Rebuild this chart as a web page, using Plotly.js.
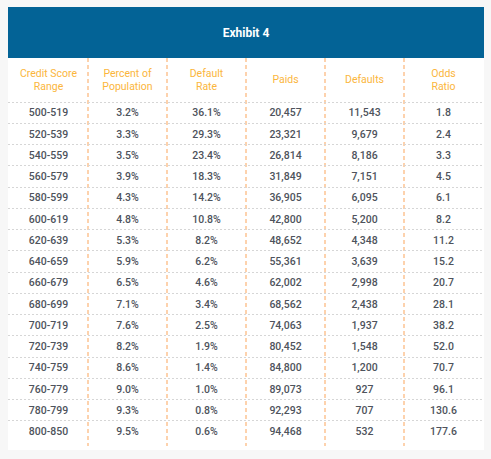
<!DOCTYPE html>
<html>
<head>
<meta charset="utf-8">
<script src="https://cdn.plot.ly/plotly-3.0.1.min.js"></script>
<style>html,body{margin:0;padding:0;background:#f7f7f7;}#chart{width:491px;height:459px;}</style>
</head>
<body>
<div id="chart"></div>
<script>
// ---- data ----
const title = "Exhibit 4";
const headers = ["Credit Score<br>Range", "Percent of<br>Population", "Default<br>Rate", "Paids", "Defaults", "Odds<br>Ratio"];
const scoreRanges = ["500-519","520-539","540-559","560-579","580-599","600-619","620-639","640-659","660-679","680-699","700-719","720-739","740-759","760-779","780-799","800-850"];
const pctPopulation = [3.2,3.3,3.5,3.9,4.3,4.8,5.3,5.9,6.5,7.1,7.6,8.2,8.6,9.0,9.3,9.5];
const defaultRate = [36.1,29.3,23.4,18.3,14.2,10.8,8.2,6.2,4.6,3.4,2.5,1.9,1.4,1.0,0.8,0.6];
const paids = [20457,23321,26814,31849,36905,42800,48652,55361,62002,68562,74063,80452,84800,89073,92293,94468];
const defaults = [11543,9679,8186,7151,6095,5200,4348,3639,2998,2438,1937,1548,1200,927,707,532];
const oddsRatio = [1.8,2.4,3.3,4.5,6.1,8.2,11.2,15.2,20.7,28.1,38.2,52.0,70.7,96.1,130.6,177.6];

// ---- build columns ----
const fmtInt = v => v.toLocaleString('en-US');
const columns = [
  scoreRanges,
  pctPopulation.map(v => v.toFixed(1) + '%'),
  defaultRate.map(v => v.toFixed(1) + '%'),
  paids.map(fmtInt),
  defaults.map(fmtInt),
  oddsRatio.map(v => v.toFixed(1))
];
const nRows = scoreRanges.length;
const nCols = columns.length;
const rowPx = 21.25, headerPx = 44, bottomPx = 4;
const headerH = headerPx / rowPx;

const traces = [];
const dataFont = {family: 'Roboto, sans-serif', size: 10.5, color: '#4e535c', weight: 500};
const headFont = {family: 'Roboto, sans-serif', size: 10.5, color: '#fbb63c'};

columns.forEach((col, c) => {
  traces.push({
    type: 'scatter', mode: 'text', hoverinfo: 'skip', cliponaxis: false,
    x: col.map(() => c + 0.5), y: col.map((_, r) => r + 0.55),
    text: col, textposition: 'middle center', textfont: dataFont, showlegend: false
  });
});
traces.push({
  type: 'scatter', mode: 'text', hoverinfo: 'skip', cliponaxis: false,
  x: headers.map((_, c) => c + 0.5), y: headers.map(() => -headerH / 2 + 0.04),
  text: headers, textposition: 'middle center', textfont: headFont, showlegend: false
});

const xPad = 1 / 79;
const layout = {
  width: 491, height: 459,
  margin: {l: 8, r: 7, t: 58, b: 13, pad: 0},
  paper_bgcolor: '#f7f7f7',
  plot_bgcolor: 'rgba(0,0,0,0)',
  showlegend: false,
  title: {
    text: '<b>' + title + '</b>',
    font: {family: 'Roboto, sans-serif', size: 12, color: '#ffffff'},
    x: 0.5, xref: 'paper', xanchor: 'center',
    y: 1 - 32.5 / 459, yref: 'container', yanchor: 'middle'
  },
  xaxis: {
    range: [-xPad, nCols + xPad], fixedrange: true,
    tickvals: Array.from({length: nCols + 1}, (_, i) => i),
    showticklabels: false, ticks: '', zeroline: false, showline: false,
    showgrid: true, gridcolor: '#fdd2ad', gridwidth: 1.5, griddash: '4px,3px'
  },
  yaxis: {
    range: [nRows + bottomPx / rowPx, -headerH], fixedrange: true,
    tickvals: Array.from({length: nRows}, (_, i) => i),
    showticklabels: false, ticks: '', zeroline: false, showline: false,
    showgrid: true, gridcolor: '#d6d6d6', gridwidth: 1, griddash: '2px,2px'
  },
  shapes: [
    {type: 'rect', xref: 'paper', yref: 'paper', layer: 'below',
     x0: 0, x1: 1, y0: -4 / 388, y1: 1 + 51 / 388,
     fillcolor: '#ffffff', line: {width: 0}},
    {type: 'rect', xref: 'paper', yref: 'paper', layer: 'above',
     x0: 0, x1: 1, y0: 1, y1: 1 + 51 / 388,
     fillcolor: '#036396', line: {width: 0}}
  ]
};
Plotly.newPlot('chart', traces, layout, {displayModeBar: false, staticPlot: true});
</script>
</body>
</html>
